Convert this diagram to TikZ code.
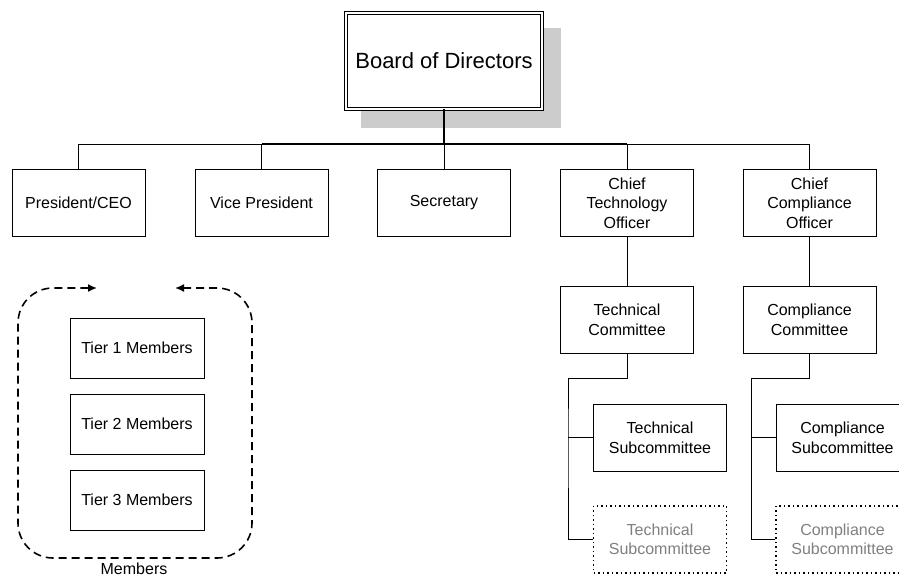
\documentclass[tikz,border=0pt]{standalone}
\usepackage{fontspec}
\setmainfont{Liberation Sans}
\usetikzlibrary{positioning,arrows.meta,backgrounds}
\definecolor{shadowgray}{RGB}{204,204,204}
\definecolor{vacantgray}{RGB}{128,128,128}
\tikzset{
  board-node/.style={draw=black, double, double distance=2pt, line width=0.9pt, fill=white,
    minimum width=196pt, minimum height=96pt, font=\fontsize{22}{26}\selectfont, align=center},
  office-node/.style={draw=black, line width=1pt, fill=white, minimum width=133pt,
    minimum height=67pt, font=\fontsize{16}{19.5}\selectfont, align=center, inner sep=2pt},
  tier-node/.style={office-node, minimum width=134pt, minimum height=60pt},
  vacant-node/.style={office-node, dash pattern=on 1.5pt off 3pt, line width=1.6pt, text=vacantgray},
  org-line/.style={line width=1pt},
  bus-line/.style={line width=2.2pt},
  member-loop/.style={{Latex[length=9pt,width=8pt]}-{Latex[length=9pt,width=8pt]},
    dash pattern=on 8pt off 5pt, line width=1.6pt, rounded corners=35pt},
  caption-text/.style={font=\fontsize{16}{19.5}\selectfont, inner sep=1pt}
}

\begin{document}
\begin{tikzpicture}[x=1pt, y=-1pt, node distance=50pt and 50pt]
\clip (0,0) rectangle (899,578);

% Board at the top, with its shadow behind
\node[board-node] (board) at (444,61) {Board of Directors};
\begin{scope}[on background layer]
\fill[shadowgray] ([xshift=15.5pt,yshift=-18.5pt]board.south west) rectangle ([xshift=18.5pt,yshift=-15.5pt]board.north east);
\end{scope}

% Level 1: officers
\node[office-node, below=59.5pt of board, xshift=-365.5pt] (president) {President/CEO};
\node[office-node, below=59.5pt of board, xshift=-182.5pt] (vp) {Vice President};
\node[office-node, below=59.5pt of board] (secretary) {Secretary};
\node[office-node, below=59.5pt of board, xshift=183pt] (cto) {Chief\\Technology\\Officer};
\node[office-node, below=59.5pt of board, xshift=365.5pt] (cco) {Chief\\Compliance\\Officer};

% Level 2: committees
\node[office-node, below=49pt of cto] (techcom) {Technical\\Committee};
\node[office-node, below=49pt of cco] (compcom) {Compliance\\Committee};

% Level 3: subcommittees (the dotted ones are still open)
\node[office-node, below=50pt of techcom, xshift=33pt] (techsub) {Technical\\Subcommittee};
\node[vacant-node, below=33pt of techsub] (techvacant) {Technical\\Subcommittee};
\node[office-node, below=50pt of compcom, xshift=33pt] (compsub) {Compliance\\Subcommittee};
\node[vacant-node, below=33pt of compsub] (compvacant) {Compliance\\Subcommittee};

% Members group
\node[tier-node] (tier1) at (137,348) {Tier 1 Members};
\node[tier-node, below=15pt of tier1] (tier2) {Tier 2 Members};
\node[tier-node, below=15pt of tier2] (tier3) {Tier 3 Members};
\node[caption-text] (members) at (134,569) {Members};

% Bus under the board
\coordinate (bus) at (444,144);
\draw[org-line] (president.north |- bus) -- (cco.north |- bus);
\foreach \n in {president,vp,secretary,cto,cco}
  \draw[org-line] (\n.north) -- (\n.north |- bus);
\draw[bus-line] (board.south) -- (bus);
\draw[bus-line] (vp.north |- bus) -- (cto.north |- bus);

% Officers to committees
\draw[org-line] (cto) -- (techcom);
\draw[org-line] (cco) -- (compcom);

% Committees to subcommittees
\draw[org-line] (techcom.south) -- ++(0,25) -| ([xshift=-25pt]techsub.west) |- (techvacant.west);
\draw[org-line] ([xshift=-25pt]techsub.west) -- (techsub.west);
\draw[org-line] (compcom.south) -- ++(0,25) -| ([xshift=-24pt]compsub.west) |- (compvacant.west);
\draw[org-line] ([xshift=-24pt]compsub.west) -- (compsub.west);

% Loop round the members
\draw[member-loop] (175,288) -- (252,288) -- (252,558) -- (18,558) -- (18,288) -- (97,288);
\end{tikzpicture}
\end{document}
